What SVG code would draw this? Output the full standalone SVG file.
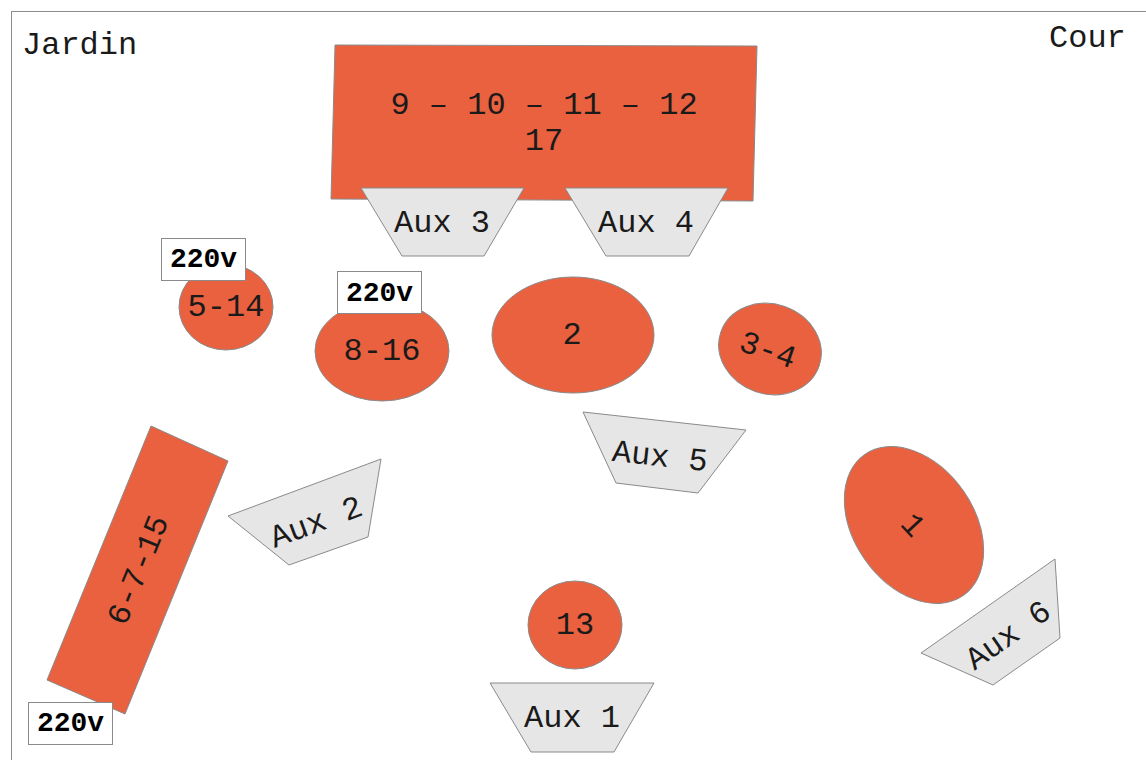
<svg xmlns="http://www.w3.org/2000/svg" width="1146" height="760" viewBox="0 0 1146 760">
<style>
.bg{fill:#ffffff}
.frame{fill:none;stroke:#8c8c8c;stroke-width:1}
.inst{fill:#E9613F;stroke:#8a8a8a;stroke-width:1}
.aux{fill:#E6E6E6;stroke:#8a8a8a;stroke-width:1}
.pw{fill:#ffffff;stroke:#8a8a8a;stroke-width:1}
.t{font-family:"Liberation Mono","Courier New",monospace;font-size:32px;fill:#1a1a1a;text-anchor:middle}
.c{font-family:"Liberation Mono","Courier New",monospace;font-size:32px;fill:#1a1a1a}
.b{font-family:"Liberation Mono","Courier New",monospace;font-size:28px;font-weight:bold;fill:#000000;text-anchor:middle}
</style>
<rect class="bg" x="0" y="0" width="1146" height="760"/>
<rect class="frame" x="11.5" y="11.5" width="1160" height="780"/>
<g id="labels">
<text class="c" x="22" y="54">Jardin</text>
<text class="c" x="1049" y="47">Cour</text>
</g>
<g id="connectors"/>
<g id="riser-9-10-11-12-17">
<polygon class="inst" points="335,45 757,46 753,201 331,199"/>
<text class="t" x="544" y="114">9 – 10 – 11 – 12</text>
<text class="t" x="544" y="150">17</text>
</g>
<g id="aux3">
<polygon class="aux" points="361,188 524,188 484,256 402,256"/>
<text class="t" x="442" y="232">Aux 3</text>
</g>
<g id="aux4">
<polygon class="aux" points="565,188 728,188 689,256 606,256"/>
<text class="t" x="646" y="232">Aux 4</text>
</g>
<g id="inst-5-14">
<ellipse class="inst" cx="226" cy="307" rx="47" ry="43"/>
<text class="t" x="226" y="316">5-14</text>
</g>
<g id="pw1">
<rect class="pw" x="161.5" y="238.5" width="84" height="42"/>
<text class="b" x="203.5" y="267">220v</text>
</g>
<g id="inst-8-16">
<ellipse class="inst" cx="382" cy="351" rx="67" ry="50"/>
<text class="t" x="382" y="360">8-16</text>
</g>
<g id="pw2">
<rect class="pw" x="337.5" y="271.5" width="84" height="42"/>
<text class="b" x="379.5" y="301">220v</text>
</g>
<g id="inst-2">
<ellipse class="inst" cx="573" cy="335" rx="81" ry="58"/>
<text class="t" x="572" y="344">2</text>
</g>
<g id="inst-3-4">
<ellipse class="inst" cx="0" cy="0" rx="52" ry="45" transform="translate(770,349) rotate(19)"/>
<text class="t" x="0" y="10" transform="translate(768,350) rotate(19)">3-4</text>
</g>
<g id="aux5">
<polygon class="aux" points="583,412 746,430 698,493 616,483"/>
<text class="t" x="0" y="10" transform="translate(660,456) rotate(6.3)">Aux 5</text>
</g>
<g id="inst-6-7-15">
<polygon class="inst" points="151,426 228,461 125,714 47,680"/>
<text class="t" x="0" y="10" transform="translate(138,570) rotate(-67.7)">6-7-15</text>
</g>
<g id="pw3">
<rect class="pw" x="28.5" y="702.5" width="84" height="42"/>
<text class="b" x="70.5" y="731">220v</text>
</g>
<g id="aux2">
<polygon class="aux" points="228,516 381,459 368,537 289,565"/>
<text class="t" x="0" y="10" transform="translate(316,522) rotate(-20.4)">Aux 2</text>
</g>
<g id="inst-1">
<ellipse class="inst" cx="0" cy="0" rx="86" ry="60" transform="translate(914,525) rotate(55)"/>
<text class="t" x="0" y="10" transform="translate(913,525) rotate(47)">1</text>
</g>
<g id="aux6">
<polygon class="aux" points="921,653 1055,559 1060,638 993,685"/>
<text class="t" x="0" y="10" transform="translate(1008,635) rotate(-35)">Aux 6</text>
</g>
<g id="inst-13">
<ellipse class="inst" cx="575" cy="625" rx="47" ry="44"/>
<text class="t" x="575" y="634">13</text>
</g>
<g id="aux1">
<polygon class="aux" points="490,683 654,683 614,752 531,752"/>
<text class="t" x="572" y="727">Aux 1</text>
</g>
</svg>
